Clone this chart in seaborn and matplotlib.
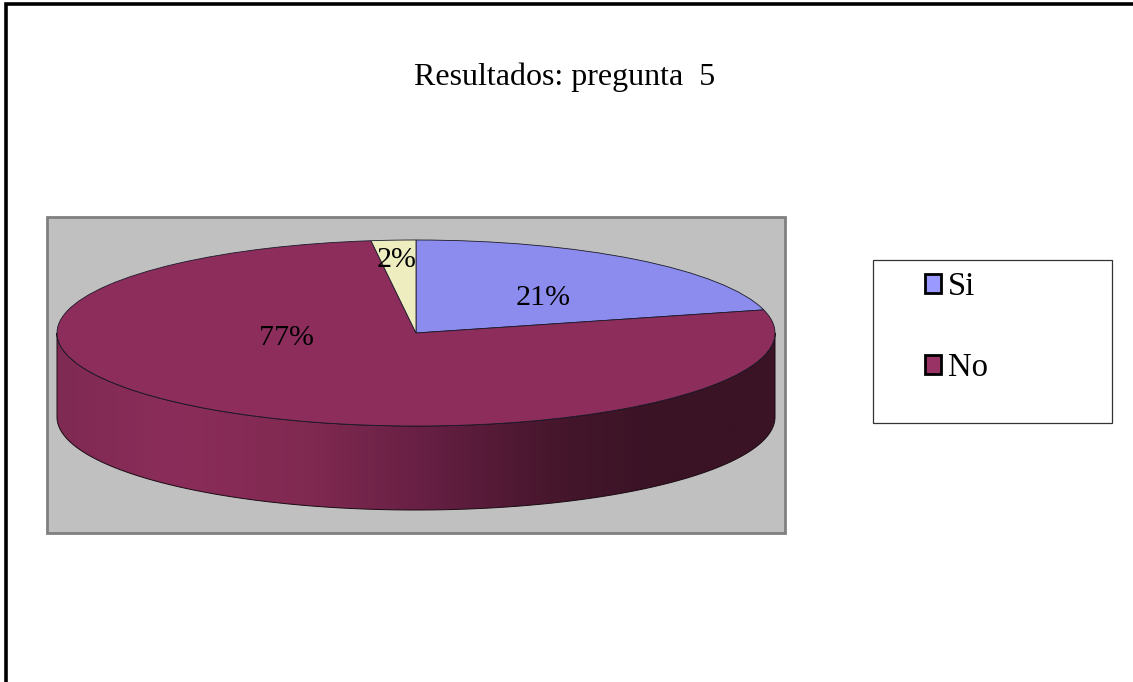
import numpy as np
import matplotlib
matplotlib.use('Agg')
import matplotlib.pyplot as plt
import seaborn as sns
from matplotlib.colors import LinearSegmentedColormap
from matplotlib.patches import Patch, Polygon, Rectangle

# Datos
titulo = 'Resultados: pregunta  5'
leyenda = ['Si', 'No']
valores = [21, 77, 2]
colores = ['#8c8cee', '#8c2d5c', '#ededbf']
colores_leyenda = ['#9999ff', '#993366']
pos_etiquetas = [(543, 298), (286, 338), (397, 260)]

sns.set_theme(style='white')
plt.rcParams['font.family'] = ['Liberation Serif', 'DejaVu Serif']

W, H = 1133, 682
fs = 21.6
fig = plt.figure(figsize=(W / 100, H / 100), dpi=100, facecolor='white')

# ------------------------------------------
# Fondo en coordenadas de pixel
ax = fig.add_axes([0, 0, 1, 1])
ax.set_xlim(0, W)
ax.set_ylim(H, 0)
ax.axis('off')

ax.plot([5.5, 5.5, W + 5], [H + 5, 3.5, 3.5], color='black', lw=2.6, solid_joinstyle='miter')
ax.add_patch(Rectangle((47, 217), 738, 316, facecolor='#c0c0c0', edgecolor='#808080', lw=2.0))
ax.add_patch(Rectangle((873, 260), 239, 163, facecolor='white', edgecolor='#333333', lw=0.9))
ax.text(564.5, 77, titulo, ha='center', va='center', fontsize=23, color='black')

# ------------------------------------------
# Tarta: el eje ocupa la elipse superior y la pared lateral
x0, x1, y0, y1 = 57, 775, 240, 426
prof = 84 / ((y1 - y0) / 2)
ax_pie = fig.add_axes([x0 / W, 1 - (y1 + 84) / H, (x1 - x0) / W, (y1 + 84 - y0) / H])
ax_pie.patch.set_alpha(0)

t = np.linspace(np.pi, 2 * np.pi, 300)
borde_x, borde_y = np.cos(t), np.sin(t)
lado = np.r_[np.c_[borde_x, borde_y], np.c_[borde_x, borde_y - prof][::-1]]

degradado = LinearSegmentedColormap.from_list('lado', [
    (0.0, '#7f2a52'), (0.16, '#8b2d5a'), (0.36, '#7f2950'), (0.52, '#651f42'),
    (0.7, '#45162c'), (0.84, '#3a1325'), (1.0, '#3a1325')])
img = ax_pie.imshow(np.linspace(0, 1, 360).reshape(1, -1), cmap=degradado, aspect='auto',
                    extent=(-1, 1, -1 - prof, 0), zorder=1)
pared = Polygon(lado, closed=True, facecolor='none', edgecolor='#1a0a12', lw=0.7, zorder=2)
ax_pie.add_patch(pared)

wedges, _ = ax_pie.pie(valores, colors=colores, startangle=90, counterclock=False, radius=1,
                       wedgeprops={'edgecolor': '#1a1a2a', 'linewidth': 0.6, 'zorder': 3})
ax_pie.set_aspect('auto')
ax_pie.set_xlim(-1, 1)
ax_pie.set_ylim(-1 - prof, 1)
ax_pie.axis('off')
for w in wedges:
    w.set_clip_on(False)
pared.set_clip_on(False)
img.set_clip_path(pared)

# Porcentajes
ax_txt = fig.add_axes([0, 0, 1, 1], sharex=ax, sharey=ax)
ax_txt.axis('off')
ax_txt.patch.set_alpha(0)
for v, (px, py) in zip(valores, pos_etiquetas):
    ax_txt.text(px, py, f'{v}%', ha='center', va='center', fontsize=fs, color='black')

# ------------------------------------------
# Leyenda
handles = [Patch(facecolor=c, edgecolor='black', lw=2) for c in colores_leyenda]
ax_txt.legend(handles, leyenda, loc='upper left', bbox_to_anchor=(915 / W, 1 - 262 / H),
              frameon=False, fontsize=23.5, labelcolor='black', handlelength=0.5, handleheight=0.5,
              handletextpad=0.22, labelspacing=1.54, borderpad=0.3, borderaxespad=0)

fig.savefig('out.png', dpi=100)
